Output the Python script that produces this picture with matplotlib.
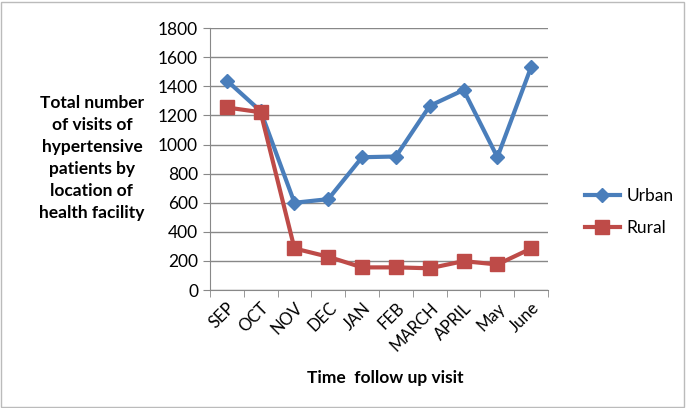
import matplotlib
matplotlib.use("Agg")
from matplotlib import pyplot as plt
from matplotlib.patches import Rectangle
from matplotlib.ticker import MultipleLocator

months = ['SEP', 'OCT', 'NOV', 'DEC', 'JAN', 'FEB', 'MARCH', 'APRIL', 'May', 'June']
urban = [1440, 1230, 600, 625, 913, 918, 1266, 1375, 913, 1534]
rural = [1255, 1222, 286, 229, 156, 156, 150, 199, 176, 286]
y_ticks = list(range(0, 1801, 200))


def main():
    plt.rcParams['font.family'] = ['Lato', 'DejaVu Sans']
    fig = plt.figure(figsize=(6.86, 4.08), dpi=100)
    ax = fig.add_axes([0.306, 0.289, 0.493, 0.642])

    x = range(len(months))
    ax.plot(x, urban, color='#4A7EBB', lw=3, marker='D', ms=7, label='Urban', zorder=3)
    ax.plot(x, rural, color='#BE4B48', lw=3, marker='s', ms=10, label='Rural', zorder=4)

    ax.set_ylim(0, 1800)
    ax.set_yticks(y_ticks)
    ax.set_xlim(-0.5, len(months) - 0.5)
    ax.set_xticks(list(x))
    ax.set_xticklabels(months, rotation=45, ha='right', rotation_mode='anchor', fontsize=12)
    ax.xaxis.set_minor_locator(MultipleLocator(1, offset=0.5))
    ax.tick_params(axis='x', which='major', length=0, pad=7)
    ax.tick_params(axis='x', which='minor', length=5, color='#888888')
    ax.tick_params(axis='y', length=5, color='#888888', labelsize=12.5)
    ax.grid(axis='y', color='#888888', lw=1)
    ax.set_axisbelow(True)
    for side in ['top', 'right']:
        ax.spines[side].set_visible(False)
    for side in ['left', 'bottom']:
        ax.spines[side].set_color('#888888')

    fig.text(0.134, 0.613, "Total number\nof visits of\nhypertensive\npatients by\nlocation of\nhealth facility",
             ha='center', va='center', fontsize=12.5, fontweight='bold', linespacing=1.45)
    fig.text(0.561, 0.073, "Time  follow up visit", ha='center', va='center',
             fontsize=12.5, fontweight='bold')

    fig.legend(loc='center left', bbox_to_anchor=(0.83, 0.48), frameon=False,
               fontsize=12.5, handlelength=2.0, handletextpad=0.4, labelspacing=0.9)

    fig.patches.append(Rectangle((0.002, 0.003), 0.995, 0.993, transform=fig.transFigure,
                                 fill=False, edgecolor='#BBBBBB', lw=1))

    fig.savefig("out.png", dpi=100)


if __name__ == "__main__":
    main()
